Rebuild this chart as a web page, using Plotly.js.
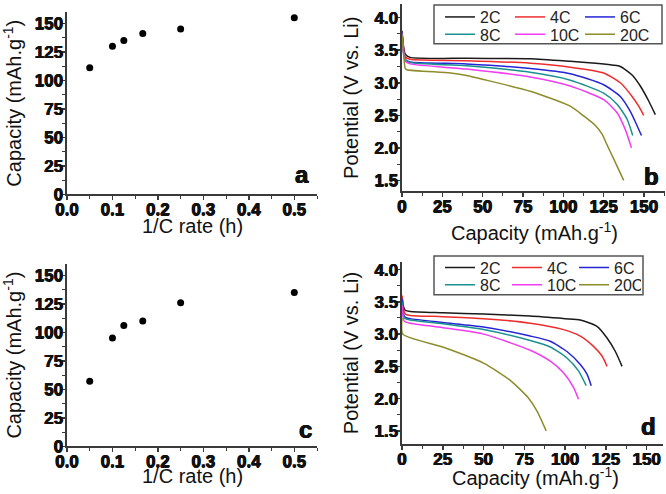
<!DOCTYPE html>
<html>
<head>
<meta charset="utf-8">
<script src="https://cdn.plot.ly/plotly-3.0.1.min.js"></script>
<style>html,body{margin:0;padding:0;background:#fff}</style>
</head>
<body>
<div id="chart" style="width:666px;height:494px"></div>
<script>
// ---------- data ----------
const rateInv = [0.05, 0.1, 0.125, 0.1667, 0.25, 0.5];   // 1/C rate (h)
const capA = [111, 130, 135, 141, 145, 155];
const capC = [57, 95, 106, 110, 126, 135];

const seriesNames = ['2C', '4C', '6C', '8C', '10C', '20C'];
const seriesColors = ['#1a1a1a', '#ee2e2e', '#2525d6', '#1a9090', '#f23cf2', '#8c8c2a'];

// panel b
const b2C_x = [0, 1, 2, 5, 40, 79.5, 104.3, 120, 131, 135.3, 142.6, 147.7, 152.9, 157];
const b2C_y = [3.80, 3.55, 3.44, 3.39, 3.375, 3.37, 3.33, 3.30, 3.27, 3.25, 3.12, 2.95, 2.72, 2.51];
const b4C_x = [0, 1, 2, 5, 40, 79.5, 104.3, 125, 135.3, 142.6, 146.7, 149.8];
const b4C_y = [3.78, 3.52, 3.40, 3.36, 3.34, 3.30, 3.24, 3.15, 3.00, 2.79, 2.64, 2.50];
const b6C_x = [0, 1, 2, 5, 40, 79.5, 104.3, 125, 135.3, 141.5, 145.7, 148.4];
const b6C_y = [3.77, 3.48, 3.36, 3.32, 3.29, 3.22, 3.14, 2.97, 2.79, 2.56, 2.34, 2.19];
const b8C_x = [0, 1, 2, 5, 40, 79.5, 104.3, 125, 133.3, 139.5, 143];
const b8C_y = [3.76, 3.46, 3.35, 3.31, 3.26, 3.16, 3.04, 2.84, 2.67, 2.44, 2.19];
const b10C_x = [0, 1, 2, 5, 40, 79.5, 104.3, 125, 133.3, 138.4, 142.2];
const b10C_y = [3.75, 3.44, 3.33, 3.29, 3.21, 3.09, 2.95, 2.74, 2.54, 2.28, 2.00];
const b20C_x = [0, 1, 2, 3, 30, 40, 50.5, 79.5, 104.3, 112.6, 120, 124, 127, 131.2, 137.4];
const b20C_y = [3.74, 3.45, 3.22, 3.20, 3.15, 3.11, 3.05, 2.87, 2.64, 2.49, 2.34, 2.21, 2.05, 1.83, 1.50];

// panel d
const d2C_x = [0, 1, 2, 5, 25, 50, 78.6, 100, 109.3, 119.5, 125.7, 130.8, 134.9];
const d2C_y = [3.58, 3.42, 3.37, 3.35, 3.33, 3.31, 3.28, 3.24, 3.22, 3.12, 2.94, 2.73, 2.50];
const d4C_x = [0, 1, 2, 5, 25, 50, 78.6, 99, 109.3, 117.4, 122.6, 125.7];
const d4C_y = [3.60, 3.38, 3.31, 3.29, 3.27, 3.24, 3.17, 3.07, 2.97, 2.81, 2.66, 2.50];
const d6C_x = [0, 1, 2, 5, 25, 50, 78.6, 90.9, 101.1, 109.3, 113.4, 116];
const d6C_y = [3.55, 3.30, 3.26, 3.24, 3.18, 3.11, 2.97, 2.89, 2.73, 2.53, 2.38, 2.20];
const d8C_x = [0, 1, 2, 5, 25, 50, 78.6, 90.9, 101.1, 108.2, 112.9];
const d8C_y = [3.50, 3.28, 3.24, 3.22, 3.16, 3.07, 2.90, 2.80, 2.63, 2.43, 2.20];
const d10C_x = [0, 1, 2, 5, 25, 50, 78.6, 90.9, 99, 105.2, 108.2];
const d10C_y = [3.45, 3.22, 3.19, 3.17, 3.10, 3.00, 2.75, 2.58, 2.40, 2.17, 1.99];
const d20C_x = [0, 0.5, 25, 50, 66, 77.5, 82.7, 88.4];
const d20C_y = [3.25, 3.00, 2.80, 2.55, 2.29, 2.01, 1.81, 1.50];

const bSeries = [[b2C_x, b2C_y], [b4C_x, b4C_y], [b6C_x, b6C_y], [b8C_x, b8C_y], [b10C_x, b10C_y], [b20C_x, b20C_y]];
const dSeries = [[d2C_x, d2C_y], [d4C_x, d4C_y], [d6C_x, d6C_y], [d8C_x, d8C_y], [d10C_x, d10C_y], [d20C_x, d20C_y]];

// ---------- traces ----------
const FONT = 'Liberation Sans';
const traces = [];
traces.push({x: rateInv, y: capA, xaxis: 'x', yaxis: 'y', mode: 'markers', type: 'scatter',
  marker: {color: '#000', size: 7}, showlegend: false});
traces.push({x: rateInv, y: capC, xaxis: 'x3', yaxis: 'y3', mode: 'markers', type: 'scatter',
  marker: {color: '#000', size: 7}, showlegend: false});

bSeries.forEach((s, i) => {
  traces.push({x: s[0], y: s[1], xaxis: 'x2', yaxis: 'y2', mode: 'lines', type: 'scatter',
    name: seriesNames[i], line: {color: seriesColors[i], width: 1.5, shape: 'spline', smoothing: 0.6},
    legend: i < 3 ? 'legend' : 'legend2'});
});
dSeries.forEach((s, i) => {
  traces.push({x: s[0], y: s[1], xaxis: 'x4', yaxis: 'y4', mode: 'lines', type: 'scatter',
    name: seriesNames[i], line: {color: seriesColors[i], width: 1.5, shape: 'spline', smoothing: 0.6},
    legend: i < 3 ? 'legend3' : 'legend4'});
});

// ---------- layout ----------
const AXC = '#3a3a3a';
const TICKSHADOW = '0.45px 0 0 #111, -0.45px 0 0 #111, 0 0.3px 0 #111';
function axis(extra, isX) {
  return Object.assign({
    showline: true, linecolor: AXC, linewidth: 1.5, mirror: false,
    ticks: 'outside', ticklen: 4, tickwidth: 1.5, tickcolor: AXC,
    showgrid: false, zeroline: false, fixedrange: true,
    ticklabelstandoff: isX ? -5 : -5,
    tickfont: {family: FONT, size: 17, color: '#111', weight: 700, shadow: TICKSHADOW},
  }, extra);
}
const capTitle = 'Capacity (mAh.g<sup>-1</sup>)';
const titleFont = {family: FONT, size: 20, color: '#111'};
const minorX1 = {ticks: 'outside', ticklen: 3, tickwidth: 1, tickcolor: AXC, dtick: 0.05, tick0: 0};
const minorY1 = {ticks: 'outside', ticklen: 3, tickwidth: 1, tickcolor: AXC, dtick: 12.5, tick0: 0};
const minorX2 = {ticks: 'outside', ticklen: 3, tickwidth: 1, tickcolor: AXC, dtick: 12.5, tick0: 0};
const minorY2 = {ticks: 'outside', ticklen: 3, tickwidth: 1, tickcolor: AXC, dtick: 0.25, tick0: 0};

function legendCfg(xpx, ypx, ew) {
  return {orientation: 'h', x: xpx / 666, xanchor: 'left', y: 1 - ypx / 494, yanchor: 'top',
    bgcolor: 'rgba(0,0,0,0)', borderwidth: 0, font: {family: FONT, size: 16, color: '#222'},
    entrywidth: ew, entrywidthmode: 'pixels', itemwidth: 30, tracegroupgap: 0};
}
function xTitle(text, ax, x, y) {
  return {text: text, xref: ax + ' domain', yref: (ax === 'x' ? 'y' : 'y' + ax.slice(1)) + ' domain',
    x: x, y: y, showarrow: false, xanchor: 'center', yanchor: 'middle', font: titleFont};
}
function letter(text, ax, x, y) {
  return {text: text, xref: ax + ' domain', yref: (ax === 'x' ? 'y' : 'y' + ax.slice(1)) + ' domain',
    x: x, y: y, showarrow: false, xanchor: 'center', yanchor: 'middle',
    font: {family: FONT, size: 24, weight: 700, color: '#111', shadow: TICKSHADOW}};
}

const layout = {
  width: 666, height: 494,
  margin: {l: 0, r: 0, t: 0, b: 0},
  paper_bgcolor: '#fff', plot_bgcolor: '#fff',
  font: {family: FONT},
  xaxis: axis({domain: [0.1006, 0.4760], range: [0, 0.55], dtick: 0.1, tick0: 0, tickformat: '.1f',
    minor: minorX1, anchor: 'y'}, true),
  yaxis: axis({domain: [0.6113, 0.9838], range: [0, 160], dtick: 25, tick0: 0,
    minor: minorY1, anchor: 'x', title: {text: capTitle, font: titleFont, standoff: 10}}, false),
  xaxis2: axis({domain: [0.6036, 0.9985], range: [0, 163], dtick: 25, tick0: 0,
    minor: minorX2, anchor: 'y2'}, true),
  yaxis2: axis({domain: [0.6174, 1.0], range: [1.33, 4.21], dtick: 0.5, tick0: 0, tickformat: '.1f',
    minor: minorY2, anchor: 'x2', title: {text: 'Potential (V vs. Li)', font: titleFont, standoff: 10}}, false),
  xaxis3: axis({domain: [0.1006, 0.4760], range: [0, 0.55], dtick: 0.1, tick0: 0, tickformat: '.1f',
    minor: minorX1, anchor: 'y3'}, true),
  yaxis3: axis({domain: [0.0972, 0.4696], range: [0, 160], dtick: 25, tick0: 0,
    minor: minorY1, anchor: 'x3', title: {text: capTitle, font: titleFont, standoff: 10}}, false),
  xaxis4: axis({domain: [0.6036, 0.9955], range: [0, 160], dtick: 25, tick0: 0,
    minor: minorX2, anchor: 'y4'}, true),
  yaxis4: axis({domain: [0.1018, 0.4737], range: [1.294, 4.12], dtick: 0.5, tick0: 0, tickformat: '.1f',
    minor: minorY2, anchor: 'x4', title: {text: 'Potential (V vs. Li)', font: titleFont, standoff: 10}}, false),
  legend: legendCfg(440, -4, 25),
  legend2: legendCfg(440, 13.5, 25),
  legend3: legendCfg(440, 248.5, 22),
  legend4: legendCfg(440, 266, 22),
  shapes: [
    {type: 'rect', xref: 'paper', yref: 'paper', x0: 434 / 666, x1: 662 / 666, y0: 1 - 40 / 494, y1: 1 - 1 / 494,
      line: {color: '#555', width: 1.5}, fillcolor: 'rgba(0,0,0,0)', layer: 'above'},
    {type: 'rect', xref: 'paper', yref: 'paper', x0: 434 / 666, x1: 643 / 666, y0: 1 - 293 / 494, y1: 1 - 254 / 494,
      line: {color: '#555', width: 1.5}, fillcolor: 'rgba(0,0,0,0)', layer: 'above'}
  ],
  annotations: [
    xTitle('1/C rate (h)', 'x', 0.5, -0.172),
    xTitle(capTitle, 'x2', 0.505, -0.215),
    xTitle('1/C rate (h)', 'x3', 0.5, -0.162),
    xTitle(capTitle, 'x4', 0.51, -0.176),
    letter('a', 'x', 0.94, 0.109),
    letter('b', 'x2', 0.947, 0.079),
    letter('c', 'x3', 0.952, 0.092),
    letter('d', 'x4', 0.943, 0.096)
  ]
};

Plotly.newPlot('chart', traces, layout, {displayModeBar: false, staticPlot: true});
</script>
</body>
</html>
